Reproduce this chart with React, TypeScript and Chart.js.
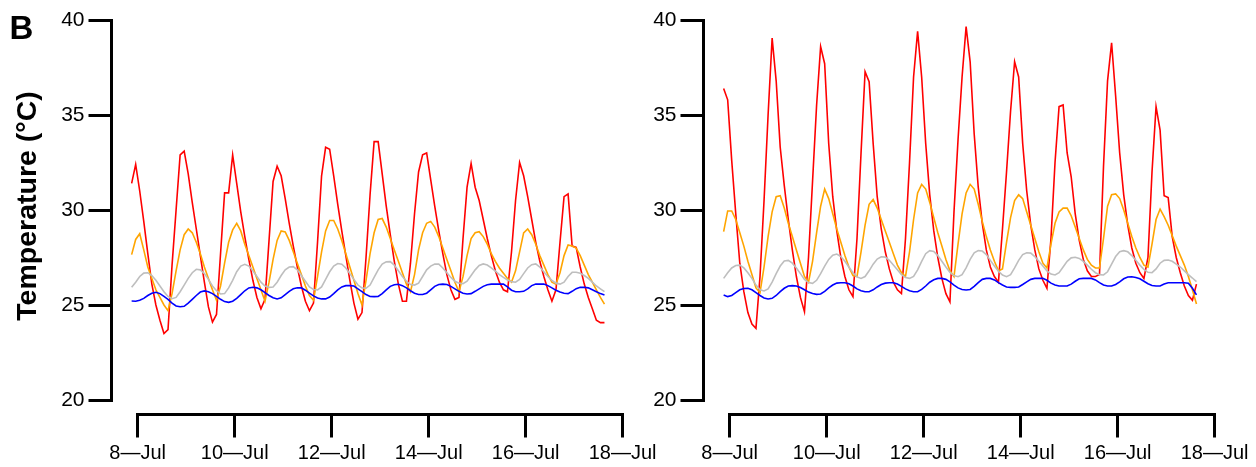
import { useEffect, useRef } from "react";
import { Chart, registerables } from "chart.js";

Chart.register(...registerables);

// ---- time axis: 2-hourly readings starting 7-Jul 21:00 (day number 7.875) ----
const START_DAY = 7.875;
const STEP_DAYS = 1 / 12;

const X_TICKS = [8, 10, 12, 14, 16, 18];
const X_LABELS = ["8—Jul", "10—Jul", "12—Jul", "14—Jul", "16—Jul", "18—Jul"];
const Y_TICKS = [20, 25, 30, 35, 40];
const Y_TITLE = "Temperature (°C)";
const PANEL_LETTER = "B";

// ---- left panel ----
const LEFT_RED = [
  31.4, 32.4, 31.0, 29.4, 27.7, 26.1, 25.0, 24.2, 23.5, 23.7, 27.1, 30.0,
  32.9, 33.1, 31.9, 30.4, 29.0, 27.6, 26.2, 24.9, 24.1, 24.5, 27.7, 30.9,
  30.9, 32.9, 31.4, 29.9, 28.6, 27.4, 26.3, 25.4, 24.8, 25.3, 28.4, 31.5,
  32.3, 31.8, 30.6, 29.3, 28.1, 27.0, 26.0, 25.2, 24.7, 25.1, 28.3, 31.8,
  33.3, 33.2, 31.8, 30.3, 28.9, 27.6, 26.3, 25.1, 24.25, 24.6, 27.5, 30.8,
  33.6, 33.6, 31.9, 30.2, 28.7, 27.3, 26.1, 25.2, 25.2, 27.2, 29.8, 32.0,
  32.9, 33.0, 31.6, 30.2, 28.9, 27.7, 26.6, 25.8, 25.3, 25.4, 28.5, 31.2,
  32.45, 31.2, 30.5, 29.5, 28.5, 27.6, 26.8, 26.2, 25.8, 25.7, 27.8, 30.5,
  32.5, 31.8, 30.7, 29.5, 28.3, 27.3, 26.5, 25.8, 25.2, 25.8, 28.3, 30.7,
  30.85, 28.1, 28.03, 27.0, 26.1, 25.4, 24.8, 24.2, 24.07, 24.07,
];
const LEFT_ORANGE = [
  27.65, 28.45, 28.75, 27.9, 27.0, 26.4, 25.8, 25.4, 25.0, 24.7, 25.6, 26.8,
  27.9, 28.7, 29.0, 28.8, 28.3, 27.7, 27.0, 26.4, 25.8, 25.25, 26.0, 27.2,
  28.3, 28.95, 29.3, 28.9, 28.2, 27.6, 27.0, 26.4, 25.8, 25.2, 26.2, 27.4,
  28.4, 28.9, 28.85, 28.4, 27.8, 27.2, 26.6, 26.0, 25.5, 25.25, 26.5, 27.8,
  28.9, 29.45, 29.45, 29.0, 28.4, 27.7, 27.0, 26.3, 25.6, 25.0, 26.3, 27.7,
  28.8, 29.5, 29.55, 29.1, 28.5, 27.9, 27.3, 26.7, 26.1, 25.7, 26.6, 27.9,
  28.8, 29.3, 29.4, 29.1, 28.6, 28.0, 27.4, 26.8, 26.2, 25.7, 26.5, 27.6,
  28.5, 28.8, 28.86, 28.6, 28.2, 27.7, 27.3, 26.95, 26.67, 26.4, 26.2, 26.8,
  27.8, 28.8, 29.0, 28.7, 28.2, 27.6, 27.1, 26.6, 26.2, 26.1, 26.7, 27.6,
  28.16, 28.1, 28.0, 27.6, 27.1, 26.6, 26.2, 25.8, 25.4, 25.05,
];
const LEFT_GRAY = [
  25.93, 26.2, 26.5, 26.68, 26.7, 26.55, 26.3, 26.0, 25.7, 25.45, 25.33, 25.4,
  25.7, 26.05, 26.4, 26.7, 26.88, 26.85, 26.65, 26.35, 26.0, 25.75, 25.58, 25.6,
  25.9, 26.3, 26.75, 27.05, 27.14, 27.05, 26.8, 26.5, 26.2, 26.0, 25.93, 25.95,
  26.2, 26.55, 26.85, 27.0, 27.02, 26.85, 26.55, 26.25, 25.95, 25.82, 25.79, 25.95,
  26.35, 26.75, 27.05, 27.18, 27.15, 26.95, 26.65, 26.35, 26.05, 25.9, 25.88, 26.05,
  26.45, 26.85, 27.15, 27.27, 27.28, 27.1, 26.8, 26.5, 26.25, 26.08, 26.05, 26.15,
  26.5, 26.85, 27.05, 27.15, 27.15, 26.95, 26.7, 26.45, 26.25, 26.15, 26.12, 26.25,
  26.55, 26.85, 27.08, 27.16, 27.1, 26.95, 26.78, 26.6, 26.45, 26.32, 26.23, 26.2,
  26.35, 26.65, 26.95, 27.12, 27.16, 27.0, 26.75, 26.5, 26.3, 26.15, 26.1, 26.2,
  26.5, 26.72, 26.72, 26.67, 26.55, 26.4, 26.2, 26.0, 25.85, 25.7,
];
const LEFT_BLUE = [
  25.21, 25.2, 25.25, 25.35, 25.5, 25.62, 25.67, 25.6, 25.45, 25.3, 25.1, 24.95,
  24.91, 24.93, 25.1, 25.3, 25.5, 25.68, 25.74, 25.7, 25.6, 25.45, 25.3, 25.18,
  25.14, 25.2, 25.35, 25.55, 25.75, 25.9, 25.93, 25.9, 25.8, 25.65, 25.5, 25.38,
  25.32, 25.38, 25.55, 25.72, 25.85, 25.91, 25.9, 25.78, 25.62, 25.48, 25.37, 25.32,
  25.32, 25.42, 25.6, 25.8, 25.95, 26.02, 26.02, 26.0, 25.85, 25.7, 25.55, 25.45,
  25.44, 25.45, 25.6, 25.8, 25.98, 26.07, 26.09, 26.02, 25.9, 25.75, 25.62, 25.55,
  25.55, 25.62, 25.8, 25.98, 26.08, 26.1, 26.08, 25.98, 25.85, 25.72, 25.62, 25.58,
  25.6, 25.72, 25.85, 25.98, 26.07, 26.1, 26.1, 26.1, 26.1, 25.95, 25.78, 25.7,
  25.7, 25.72, 25.85, 26.02, 26.1, 26.1, 26.1, 26.02, 25.9, 25.78, 25.68, 25.62,
  25.6, 25.72, 25.86, 25.93, 25.93, 25.9, 25.8, 25.7, 25.6, 25.53,
];

// ---- right panel ----
const RIGHT_RED = [
  36.4, 35.8, 32.6, 29.8, 27.2, 25.7, 24.6, 24.0, 23.77, 26.5, 30.5, 35.0,
  39.05, 36.8, 33.3, 31.3, 29.5, 27.9, 26.5, 25.4, 24.65, 27.5, 31.5, 35.5,
  38.6, 37.7, 33.5, 30.7, 28.9, 27.5, 26.5, 25.8, 25.44, 28.5, 33.0, 37.28,
  36.75, 33.5, 30.7, 29.0, 27.8, 26.9, 26.2, 25.8, 25.6, 28.5, 32.5, 37.0,
  39.4, 37.0, 33.5, 30.8, 28.9, 27.5, 26.4, 25.6, 25.17, 29.9, 33.7, 37.0,
  39.65, 37.8, 34.0, 31.2, 29.3, 27.9, 27.0, 26.5, 26.2, 29.0, 32.0, 35.2,
  37.8, 37.0, 33.5, 31.0, 29.2, 27.9, 26.9, 26.3, 25.88, 28.5, 32.5, 35.44,
  35.53, 33.0, 31.75, 29.8, 28.4, 27.4, 26.8, 26.5, 26.5, 26.6, 32.3, 36.8,
  38.8, 36.0, 33.0, 30.8, 29.2, 28.0, 27.2, 26.7, 26.4, 27.5, 32.0, 35.44,
  34.2, 30.75, 30.65, 28.6, 27.5, 26.7, 26.0, 25.5, 25.25, 26.1,
];
const RIGHT_ORANGE = [
  28.86, 29.95, 29.95, 29.5, 28.8, 28.1, 27.3, 26.6, 25.9, 25.65, 27.0, 28.6,
  29.9, 30.7, 30.75, 30.1, 29.3, 28.6, 27.9, 27.2, 26.5, 26.2, 27.3, 28.8,
  30.2, 31.1, 30.6, 29.8, 29.0, 28.3, 27.6, 27.0, 26.55, 26.5, 27.8, 29.2,
  30.3, 30.55, 30.1, 29.5, 28.9, 28.3, 27.7, 27.1, 26.7, 26.5, 27.8, 29.5,
  30.9, 31.35, 31.1, 30.4, 29.6, 28.8, 28.1, 27.4, 26.8, 26.5, 28.2, 29.8,
  30.9, 31.35, 31.1, 30.3, 29.4, 28.6, 27.9, 27.3, 26.8, 26.9, 28.3, 29.6,
  30.5, 30.8, 30.6, 29.9, 29.2, 28.5, 27.8, 27.2, 26.95, 28.2, 29.3, 29.9,
  30.1, 30.1, 29.7, 29.1, 28.5, 27.9, 27.4, 27.1, 26.95, 26.95, 28.5, 30.2,
  30.8, 30.85, 30.6, 30.0, 29.3, 28.6, 28.0, 27.5, 27.1, 27.0, 28.2, 29.5,
  30.05, 29.65, 29.2, 28.65, 28.1, 27.6, 27.1, 26.5, 25.8, 25.05,
];
const RIGHT_GRAY = [
  26.4, 26.7, 26.95, 27.08, 27.1, 26.95, 26.7, 26.4, 26.05, 25.8, 25.74, 25.85,
  26.2, 26.65, 27.05, 27.32, 27.35, 27.2, 26.95, 26.65, 26.35, 26.18, 26.14, 26.3,
  26.65, 27.05, 27.4, 27.62, 27.68, 27.55, 27.3, 27.0, 26.7, 26.48, 26.4, 26.5,
  26.8, 27.15, 27.42, 27.54, 27.52, 27.35, 27.1, 26.85, 26.6, 26.45, 26.4, 26.5,
  26.85, 27.3, 27.7, 27.86, 27.82, 27.6, 27.3, 27.0, 26.72, 26.55, 26.49, 26.6,
  26.95, 27.4, 27.75, 27.86, 27.84, 27.65, 27.35, 27.05, 26.78, 26.58, 26.49, 26.6,
  26.95, 27.35, 27.65, 27.75, 27.73, 27.55, 27.3, 27.05, 26.8, 26.63, 26.58, 26.7,
  27.0, 27.3, 27.48, 27.51, 27.45, 27.3, 27.1, 26.88, 26.7, 26.6, 26.58, 26.75,
  27.15, 27.55, 27.8, 27.86, 27.8, 27.6, 27.35, 27.1, 26.88, 26.72, 26.7, 26.9,
  27.2, 27.35, 27.37, 27.3, 27.15, 27.0, 26.8, 26.6, 26.42, 26.23,
];
const RIGHT_BLUE = [
  25.53, 25.44, 25.5, 25.65, 25.8, 25.87, 25.88, 25.8, 25.65, 25.5, 25.37, 25.32,
  25.35, 25.5, 25.7, 25.88, 26.0, 26.02, 26.0, 25.92, 25.8, 25.68, 25.6, 25.56,
  25.58, 25.72, 25.9, 26.05, 26.15, 26.17, 26.17, 26.12, 26.0, 25.85, 25.75, 25.7,
  25.7, 25.8, 25.95, 26.08, 26.15, 26.17, 26.17, 26.1, 25.98, 25.85, 25.75, 25.7,
  25.7, 25.82, 26.0, 26.2, 26.33, 26.4, 26.4, 26.35, 26.22, 26.05, 25.9, 25.82,
  25.79, 25.82, 25.98, 26.18, 26.35, 26.4, 26.4, 26.32, 26.18, 26.05, 25.95, 25.93,
  25.93, 25.95, 26.08, 26.22, 26.35, 26.4, 26.4, 26.4, 26.3, 26.15, 26.05, 26.0,
  26.0, 26.0, 26.1, 26.25, 26.38, 26.4, 26.4, 26.4, 26.32, 26.18, 26.05, 26.0,
  26.0, 26.08, 26.22, 26.38, 26.47, 26.49, 26.45, 26.38, 26.25, 26.12, 26.03, 26.0,
  26.0, 26.1, 26.17, 26.17, 26.17, 26.17, 26.17, 26.15, 25.88, 25.53,
];

const COLORS = { red: "#ff0000", orange: "#ffa500", gray: "#bebebe", blue: "#0000ff" };
const FONT = "'Liberation Sans', Arial, Helvetica, sans-serif";

const CANVAS_W = 664;
const CANVAS_H = 467;
const AXIS_LEFT = 111.5;
const AXIS_BOTTOM = 414.5;

const alignPx = (p: number, w: number) => Math.round(p - w / 2) + w / 2;

const rAxesPlugin = {
  id: "rAxes",
  afterDraw(chart: any, _args: any, opts: any) {
    const { ctx, chartArea } = chart;
    const xs = chart.scales.x;
    const ys = chart.scales.y;
    ctx.save();
    ctx.strokeStyle = "#000";
    ctx.lineWidth = 3;
    ctx.lineCap = "butt";
    const left = alignPx(chartArea.left, 3);
    const bottom = alignPx(chartArea.bottom, 3);
    const yTop = alignPx(ys.getPixelForValue(Y_TICKS[Y_TICKS.length - 1]), 3);
    const yBot = alignPx(ys.getPixelForValue(Y_TICKS[0]), 3);
    ctx.beginPath();
    ctx.moveTo(left, yTop - 1.5);
    ctx.lineTo(left, yBot + 1.5);
    ctx.stroke();
    const x0 = alignPx(xs.getPixelForValue(X_TICKS[0]), 3);
    const x1 = alignPx(xs.getPixelForValue(X_TICKS[X_TICKS.length - 1]), 3);
    ctx.beginPath();
    ctx.moveTo(x0 - 1.5, bottom);
    ctx.lineTo(x1 + 1.5, bottom);
    ctx.stroke();

    ctx.fillStyle = "#000";
    if (opts && opts.letter) {
      ctx.font = `bold 33px ${FONT}`;
      ctx.textAlign = "left";
      ctx.textBaseline = "alphabetic";
      ctx.fillText(opts.letter, 9.6, 38.5);
    }
    if (opts && opts.title) {
      ctx.font = `bold 28.5px ${FONT}`;
      ctx.textAlign = "center";
      ctx.textBaseline = "middle";
      ctx.translate(27.8, 206);
      ctx.rotate(-Math.PI / 2);
      ctx.fillText(opts.title, 0, 0);
    }
    ctx.restore();
  },
};

type Series = { red: number[]; orange: number[]; gray: number[]; blue: number[] };

const toPoints = (vals: number[]) =>
  vals.map((v, i) => ({ x: START_DAY + i * STEP_DAYS, y: v }));

function Panel({ left, series, withTitle }: { left: number; series: Series; withTitle: boolean }) {
  const ref = useRef<HTMLCanvasElement | null>(null);

  useEffect(() => {
    if (!ref.current) return;
    const xMin = 8 - (137.7 - AXIS_LEFT) / 48.5;
    const mkDs = (vals: number[], color: string) => ({
      data: toPoints(vals),
      borderColor: color,
      backgroundColor: color,
      borderWidth: 1.6,
      pointRadius: 0,
      tension: 0,
      fill: false,
    });
    const chart = new Chart(ref.current, {
      type: "line",
      data: {
        datasets: [
          mkDs(series.blue, COLORS.blue),
          mkDs(series.gray, COLORS.gray),
          mkDs(series.orange, COLORS.orange),
          mkDs(series.red, COLORS.red),
        ],
      },
      plugins: [rAxesPlugin],
      options: {
        animation: false,
        responsive: false,
        maintainAspectRatio: false,
        events: [],
        layout: { padding: { top: 20, right: CANVAS_W - 627.5, bottom: 0, left: 0 } },
        plugins: {
          legend: { display: false },
          tooltip: { enabled: false },
          rAxes: withTitle ? { letter: PANEL_LETTER, title: Y_TITLE } : {},
        } as any,
        scales: {
          x: {
            type: "linear",
            min: xMin,
            max: 18.1,
            afterBuildTicks: (s: any) => {
              s.ticks = X_TICKS.map((v) => ({ value: v }));
            },
            afterFit: (s: any) => {
              s.height = CANVAS_H - AXIS_BOTTOM;
            },
            grid: {
              display: true,
              drawOnChartArea: false,
              drawTicks: true,
              tickLength: 23,
              lineWidth: 3,
              color: "#000",
            },
            border: { display: false },
            ticks: {
              autoSkip: false,
              maxRotation: 0,
              minRotation: 0,
              padding: 4,
              color: "#000",
              font: { family: FONT, size: 20 },
              callback: (v: any) => X_LABELS[X_TICKS.indexOf(Number(v))] ?? "",
            },
          },
          y: {
            type: "linear",
            min: 20 - (AXIS_BOTTOM - 400) / 19,
            max: 40,
            afterBuildTicks: (s: any) => {
              s.ticks = Y_TICKS.map((v) => ({ value: v }));
            },
            afterFit: (s: any) => {
              s.width = AXIS_LEFT;
            },
            grid: {
              display: true,
              drawOnChartArea: false,
              drawTicks: true,
              tickLength: 23,
              lineWidth: 3,
              color: "#000",
            },
            border: { display: false },
            ticks: {
              padding: 4,
              color: "#000",
              font: { family: FONT, size: 21 },
              callback: (v: any) => String(v),
            },
          },
        },
      } as any,
    });
    return () => chart.destroy();
  }, [series, withTitle]);

  return (
    <canvas
      ref={ref}
      width={CANVAS_W}
      height={CANVAS_H}
      style={{ position: "absolute", left, top: 0, width: CANVAS_W, height: CANVAS_H }}
    />
  );
}

const LEFT_SERIES: Series = { red: LEFT_RED, orange: LEFT_ORANGE, gray: LEFT_GRAY, blue: LEFT_BLUE };
const RIGHT_SERIES: Series = { red: RIGHT_RED, orange: RIGHT_ORANGE, gray: RIGHT_GRAY, blue: RIGHT_BLUE };

export default function App() {
  return (
    <div
      style={{
        position: "fixed",
        left: 0,
        top: 0,
        width: 1256,
        height: 467,
        background: "#fff",
        overflow: "hidden",
      }}
    >
      <Panel left={0} series={LEFT_SERIES} withTitle={true} />
      <Panel left={592} series={RIGHT_SERIES} withTitle={false} />
    </div>
  );
}
